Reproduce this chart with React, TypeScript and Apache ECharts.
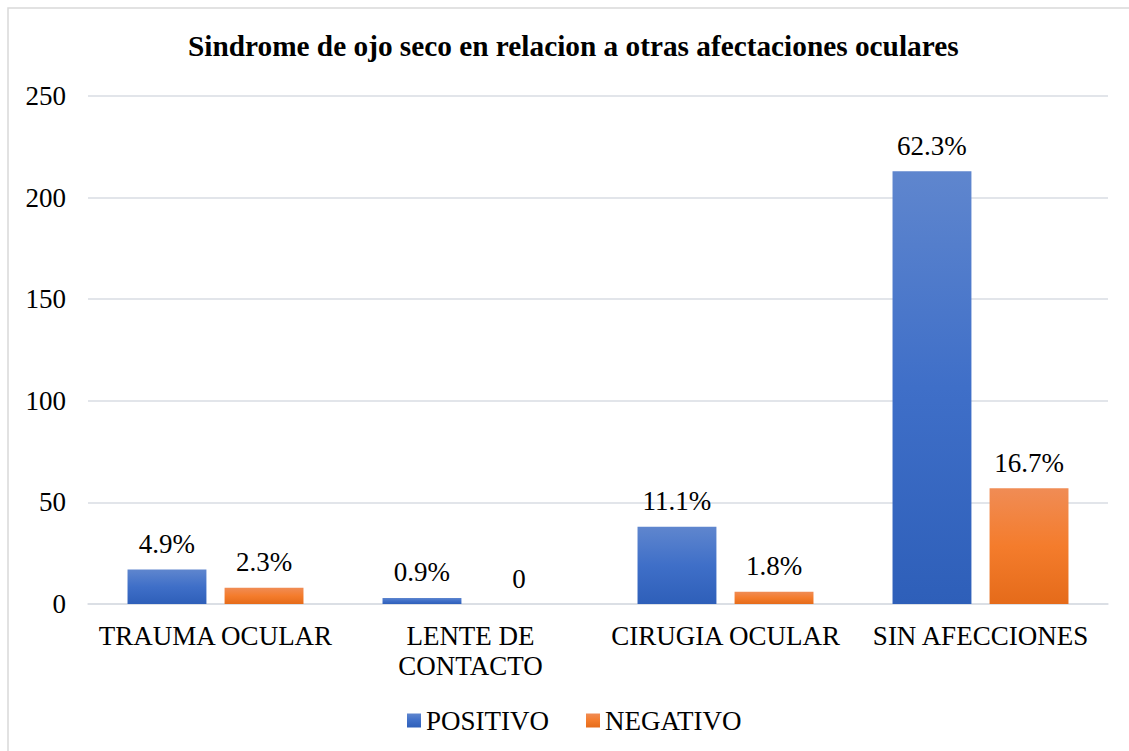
import React, { useEffect, useRef } from "react";
import * as echarts from "echarts";

const categories = ["TRAUMA OCULAR", "LENTE DE\nCONTACTO", "CIRUGIA OCULAR", "SIN AFECCIONES"];
const positivo = [17, 3, 38, 213];
const negativo = [8, 0, 6, 57];
const positivoLabels = ["4.9%", "0.9%", "11.1%", "62.3%"];
const negativoLabels = ["2.3%", "0", "1.8%", "16.7%"];
const yTicks = [0, 50, 100, 150, 200, 250];

const FONT = "Liberation Serif";

export default function App() {
  const ref = useRef<HTMLDivElement>(null);
  useEffect(() => {
    if (!ref.current) return;
    const chart = echarts.init(ref.current, null, { renderer: "svg" });
    const blue = new echarts.graphic.LinearGradient(0, 0, 0, 1, [
      { offset: 0, color: "#5f86ce" },
      { offset: 0.5, color: "#3f6fc8" },
      { offset: 1, color: "#2e5fb9" },
    ]);
    const orange = new echarts.graphic.LinearGradient(0, 0, 0, 1, [
      { offset: 0, color: "#f08c55" },
      { offset: 0.5, color: "#f47c2c" },
      { offset: 1, color: "#e56b1a" },
    ]);
    chart.setOption({
      animation: false,
      backgroundColor: "#ffffff",
      textStyle: { fontFamily: FONT },
      title: {
        text: "Sindrome de ojo seco en relacion a otras afectaciones oculares",
        left: 183,
        top: 26,
        textStyle: { fontFamily: FONT, fontSize: 29.3, fontWeight: "bold", color: "#000" },
      },
      graphic: [
        {
          type: "rect",
          shape: { x: 8, y: 8, width: 1130, height: 760 },
          style: { fill: "none", stroke: "#d9d9d9", lineWidth: 1.5 },
          silent: true,
        },
      ],
      legend: {
        top: 702,
        left: 402,
        itemWidth: 14,
        itemHeight: 14,
        itemGap: 37,
        icon: "rect",
        textStyle: { fontFamily: FONT, fontSize: 27, color: "#000" },
        data: ["POSITIVO", "NEGATIVO"],
      },
      grid: { left: 88, right: 21, top: 96, bottom: 147, containLabel: false },
      xAxis: {
        type: "category",
        data: categories,
        axisLine: { lineStyle: { color: "#d9dde3", width: 1.5 } },
        axisTick: { show: false },
        axisLabel: {
          fontFamily: FONT,
          fontSize: 27,
          color: "#000",
          margin: 17,
          lineHeight: 30,
          interval: 0,
        },
      },
      yAxis: {
        type: "value",
        min: yTicks[0],
        max: yTicks[yTicks.length - 1],
        interval: 50,
        axisLine: { show: false },
        axisTick: { show: false },
        splitLine: { lineStyle: { color: "#d9dde3", width: 1.5 } },
        axisLabel: { fontFamily: FONT, fontSize: 27, color: "#000", margin: 22 },
      },
      series: [
        {
          name: "POSITIVO",
          type: "bar",
          data: positivo,
          barGap: "23%",
          barCategoryGap: "31%",
          itemStyle: { color: blue },
          label: {
            show: true,
            position: "top",
            distance: 12,
            fontFamily: FONT,
            fontSize: 27,
            color: "#000",
            formatter: (p: any) => positivoLabels[p.dataIndex],
          },
        },
        {
          name: "NEGATIVO",
          type: "bar",
          data: negativo,
          itemStyle: { color: orange },
          label: {
            show: true,
            position: "top",
            distance: 12,
            fontFamily: FONT,
            fontSize: 27,
            color: "#000",
            formatter: (p: any) => negativoLabels[p.dataIndex],
          },
        },
      ],
    });
    return () => chart.dispose();
  }, []);
  return (
    <div
      ref={ref}
      style={{ position: "absolute", left: 0, top: 0, width: 1129, height: 751 }}
    />
  );
}
